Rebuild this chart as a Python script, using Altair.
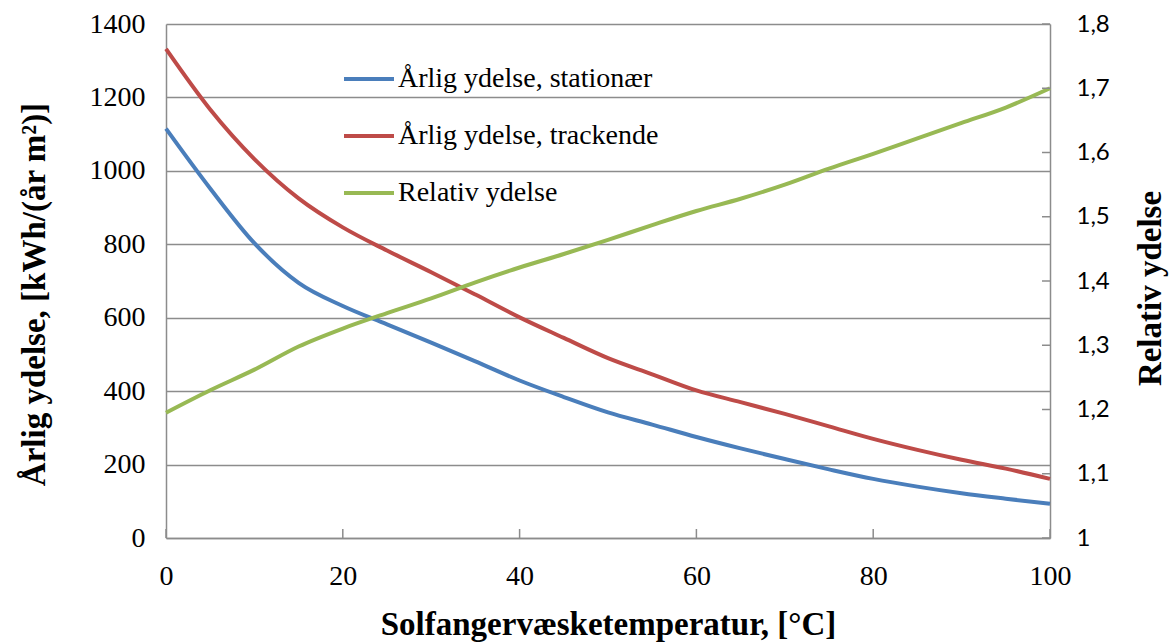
import altair as alt
import pandas as pd

# Solar collector fluid temperature [°C]
temps = [0, 5, 10, 15, 20, 25, 30, 35, 40, 45, 50,
         55, 60, 65, 70, 75, 80, 85, 90, 95, 100]

# Annual yield, fixed collector [kWh/(year m2)]
stationaer = [1115, 952, 803, 695, 632, 582, 532, 481, 429, 384, 342,
              309, 275, 244, 215, 187, 161, 140, 122, 107, 93]

# Annual yield, tracking collector [kWh/(year m2)]
trackende = [1332, 1167, 1032, 925, 846, 783, 724, 663, 601, 545, 490,
             446, 402, 370, 338, 304, 270, 240, 213, 189, 161]

# Relative yield (tracking / fixed)
relativ = [1.195, 1.230, 1.262, 1.298, 1.326, 1.350, 1.373, 1.398, 1.421, 1.442, 1.464,
           1.487, 1.509, 1.528, 1.550, 1.575, 1.598, 1.622, 1.646, 1.670, 1.700]

series_names = ["Årlig ydelse, stationær", "Årlig ydelse, trackende", "Relativ ydelse"]
series_colors = ["#4A7EBB", "#BE4B48", "#98B954"]

x_ticks = [0, 20, 40, 60, 80, 100]
left_ticks = [0, 200, 400, 600, 800, 1000, 1200, 1400]
right_ticks = [1.0, 1.1, 1.2, 1.3, 1.4, 1.5, 1.6, 1.7, 1.8]

W, H = 884, 514
GRAY = "#8C8C8C"
SERIF = "Liberation Serif"
TITLE_SIZE = 33

left_df = pd.DataFrame({
    "temp": temps * 2,
    "ydelse": stationaer + trackende,
    "serie": [series_names[0]] * len(temps) + [series_names[1]] * len(temps),
})
right_df = pd.DataFrame({
    "temp": temps,
    "relativ": relativ,
    "serie": [series_names[2]] * len(temps),
})

color = alt.Color(
    "serie:N",
    scale=alt.Scale(domain=series_names, range=series_colors),
    sort=series_names,
    legend=alt.Legend(title=None, orient="none", legendX=176, legendY=28),
)

x_axis = alt.Axis(
    values=x_ticks, format="d", grid=False, ticks=False, labelFlush=False,
    domainColor=GRAY, domainWidth=1.5,
    labelFont=SERIF, labelFontSize=28, labelColor="black", labelPadding=24,
    title="Solfangervæsketemperatur, [°C]",
    titleFont=SERIF, titleFontSize=TITLE_SIZE, titleFontWeight="bold", titleColor="black",
    titleBaseline="alphabetic", titleX=W / 2, titleY=96, titleAlign="center",
)
x_scale = alt.Scale(domain=[0, 100], nice=False, zero=False)
x_enc = alt.X("temp:Q", scale=x_scale, axis=x_axis)

lines_left = alt.Chart(left_df).mark_line(strokeWidth=4, interpolate="monotone").encode(
    x=x_enc,
    y=alt.Y(
        "ydelse:Q",
        scale=alt.Scale(domain=[0, 1400], nice=False),
        axis=alt.Axis(
            values=left_ticks, format="d", grid=True, gridColor=GRAY, gridWidth=1.5,
            ticks=False, labelFlush=False, domainColor=GRAY, domainWidth=1.5,
            labelFont=SERIF, labelFontSize=28, labelColor="black", labelPadding=21,
            title="Årlig ydelse, [kWh/(år m²)]",
            titleFont=SERIF, titleFontSize=TITLE_SIZE, titleFontWeight="bold", titleColor="black",
            titleAngle=270, titleBaseline="alphabetic", titleAlign="center",
            titleX=-122, titleY=270,
        ),
    ),
    color=color,
)

line_right = alt.Chart(right_df).mark_line(strokeWidth=4, interpolate="monotone").encode(
    x=x_enc,
    y=alt.Y(
        "relativ:Q",
        scale=alt.Scale(domain=[1.0, 1.8], nice=False, zero=False),
        axis=alt.Axis(
            orient="right", values=right_ticks, grid=False, ticks=False, labelFlush=False,
            domainColor=GRAY, domainWidth=1.5,
            labelFont="Lato", labelFontSize=24, labelColor="black", labelPadding=26,
            labelExpr="datum.value == 1 ? '1' : replace(format(datum.value, '.1f'), '.', ',')",
            title="Relativ ydelse",
            titleFont=SERIF, titleFontSize=TITLE_SIZE, titleFontWeight="bold", titleColor="black",
            titleAngle=270, titleBaseline="alphabetic", titleAlign="center",
            titleX=110, titleY=264,
        ),
    ),
    color=color,
)

# Inward tick marks on the bottom axis
x_tick_marks = alt.Chart(pd.DataFrame({"temp": x_ticks})).mark_rule(
    color=GRAY, strokeWidth=1.5
).encode(
    x=x_enc,
    y=alt.value(H - 9),
    y2=alt.value(H),
)

# Inward tick marks on the right axis
r_tick_marks = alt.Chart(pd.DataFrame({"r": right_ticks})).mark_rule(
    color=GRAY, strokeWidth=1.5
).encode(
    y=alt.Y("r:Q", scale=alt.Scale(domain=[1.0, 1.8], nice=False, zero=False), axis=None),
    x=alt.value(W - 8),
    x2=alt.value(W),
)

chart = alt.layer(lines_left, line_right, r_tick_marks, x_tick_marks).resolve_scale(
    y="independent"
).properties(
    width=W, height=H,
    autosize=alt.AutoSizeParams(type="none"),
    padding={"left": 166, "top": 24, "right": 125, "bottom": 106},
    background="white",
).configure_view(
    stroke=None
).configure_legend(
    symbolType="stroke", symbolSize=2500, symbolStrokeWidth=4,
    labelFont=SERIF, labelFontSize=28, labelColor="black",
    labelOffset=2, rowPadding=16, padding=0, labelLimit=500,
)

chart.save("out.html", embed_options={"renderer": "svg", "actions": False})
